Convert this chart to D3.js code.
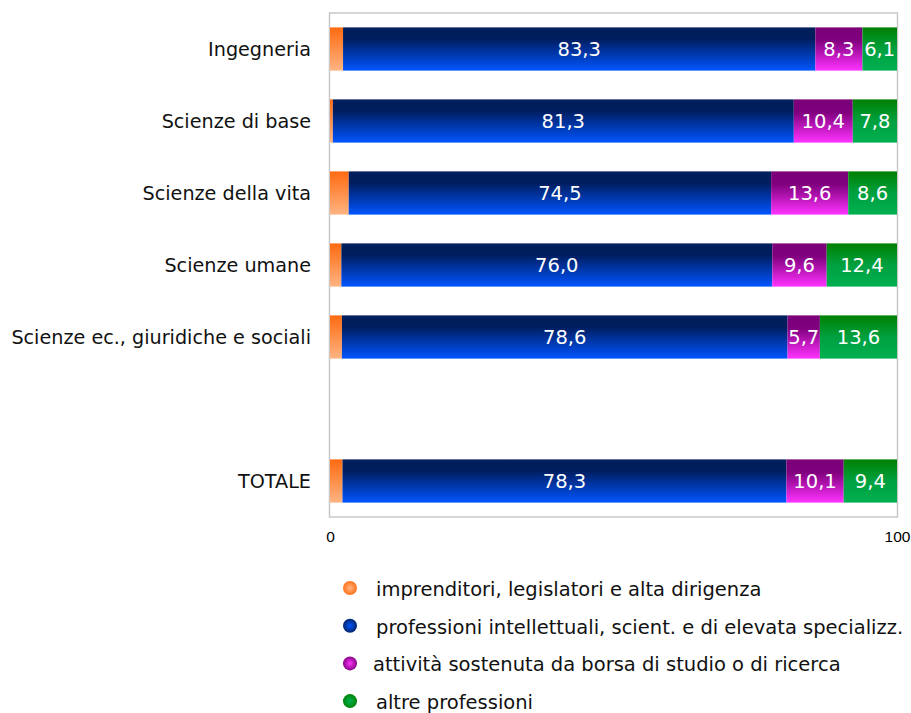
<!DOCTYPE html>
<html>
<head>
<meta charset="utf-8">
<script src="https://cdn.jsdelivr.net/npm/d3@7"></script>
<style>
  body { margin: 0; background: #fff; }
  svg { display: block; }
</style>
</head>
<body>
<div id="chart"></div>
<script>
// data
const categories = ["Ingegneria", "Scienze di base", "Scienze della vita", "Scienze umane",
    "Scienze ec., giuridiche e sociali", "", "TOTALE"];
const imprenditori = [2.3, 0.5, 3.3, 2.0, 2.1, null, 2.2];
const intellettuali = [83.3, 81.3, 74.5, 76.0, 78.6, null, 78.3];
const borsa = [8.3, 10.4, 13.6, 9.6, 5.7, null, 10.1];
const altre = [6.1, 7.8, 8.6, 12.4, 13.6, null, 9.4];
const seriesNames = ["imprenditori, legislatori e alta dirigenza",
    "professioni intellettuali, scient. e di elevata specializz.",
    "attività sostenuta da borsa di studio o di ricerca",
    "altre professioni"];
const xTicks = [0, 100];

const font = "'DejaVu Sans', Verdana, sans-serif";
const width = 911, height = 713;
const margin = {top: 13, right: 14, bottom: 196, left: 330};

const svg = d3.select("#chart").append("svg")
    .attr("width", width)
    .attr("height", height);

// gradients: dark on top, lighter at bottom
const grads = [
    {id: "g0", stops: [[0, "#ff6a10"], [1, "#ffb482"]]},
    {id: "g1", stops: [[0, "#00205c"], [0.25, "#001c5c"], [1, "#0055ff"]]},
    {id: "g2", stops: [[0, "#7a0078"], [0.3, "#80007e"], [1, "#ff33ff"]]},
    {id: "g3", stops: [[0, "#008000"], [0.5, "#00a040"], [1, "#00b050"]]}
];
const defs = svg.append("defs");
grads.forEach(function(g) {
    const lg = defs.append("linearGradient")
        .attr("id", g.id)
        .attr("x1", 0).attr("y1", 0).attr("x2", 0).attr("y2", 1);
    g.stops.forEach(function(s) {
        lg.append("stop").attr("offset", s[0]).attr("stop-color", s[1]);
    });
    const rg = defs.append("radialGradient")
        .attr("id", g.id + "r")
        .attr("cx", 0.5).attr("cy", 0.5).attr("r", 0.55);
    rg.append("stop").attr("offset", 0).attr("stop-color", g.stops[g.stops.length - 1][1]);
    rg.append("stop").attr("offset", 1).attr("stop-color", g.stops[0][1]);
});

const w = width - margin.left - margin.right;
const h = height - margin.top - margin.bottom;

const x = d3.scaleLinear().domain([0, 100]).range([0, w]);
const y = d3.scaleBand().domain(d3.range(categories.length)).range([0, h]).paddingInner(0.4).paddingOuter(0.2);

const g = svg.append("g").attr("transform", `translate(${margin.left},${margin.top})`);

// plot frame
g.append("rect")
    .attr("x", -0.5).attr("y", 0)
    .attr("width", w + 1).attr("height", h)
    .attr("fill", "none")
    .attr("stroke", "#c8c8c8")
    .attr("stroke-width", 1.5);

const series = [imprenditori, intellettuali, borsa, altre];
const rows = categories.map(function(c, i) {
    return series.map(function(s) { return s[i]; });
});

rows.forEach(function(vals, i) {
    if (vals[0] === null) return;
    let acc = 0;
    vals.forEach(function(v, j) {
        const x0 = x(acc), x1 = x(acc + v);
        g.append("rect")
            .attr("x", x0)
            .attr("y", y(i))
            .attr("width", x1 - x0)
            .attr("height", y.bandwidth())
            .attr("fill", `url(#g${j})`);
        if (j > 0) {
            g.append("text")
                .attr("x", (x0 + x1) / 2)
                .attr("y", y(i) + y.bandwidth() / 2)
                .attr("dy", "0.36em")
                .attr("text-anchor", "middle")
                .attr("fill", "#fff")
                .style("font-family", font)
                .style("font-size", "19.5px")
                .text(v.toFixed(1).replace(".", ","));
        }
        acc += v;
    });
});

// category labels
g.selectAll(".cat")
    .data(categories)
    .enter().append("text")
    .attr("x", -19)
    .attr("y", function(d, i) { return y(i) + y.bandwidth() / 2; })
    .attr("dy", "0.36em")
    .attr("text-anchor", "end")
    .attr("fill", "#111")
    .style("font-family", font)
    .style("font-size", "19.2px")
    .text(function(d) { return d; });

// x axis labels
const xAxis = d3.axisBottom(x).tickValues(xTicks).tickSize(0).tickPadding(14);
const ax = g.append("g").attr("transform", `translate(0,${h})`).call(xAxis);
ax.select(".domain").remove();
ax.selectAll("text")
    .style("font-family", "'Liberation Sans', Arial, sans-serif")
    .style("font-size", "15.5px")
    .attr("fill", "#000");

// legend
const legend = svg.append("g");
seriesNames.forEach(function(name, i) {
    const ly = 589 + i * 37.7;
    legend.append("circle")
        .attr("cx", 350).attr("cy", ly - 1)
        .attr("r", 7)
        .attr("fill", `url(#g${i}r)`);
    legend.append("text")
        .attr("x", i === 2 ? 373 : 376)
        .attr("y", ly)
        .attr("dy", "0.36em")
        .attr("fill", "#111")
        .style("font-family", font)
        .style("font-size", "19.5px")
        .text(name);
});
</script>
</body>
</html>
